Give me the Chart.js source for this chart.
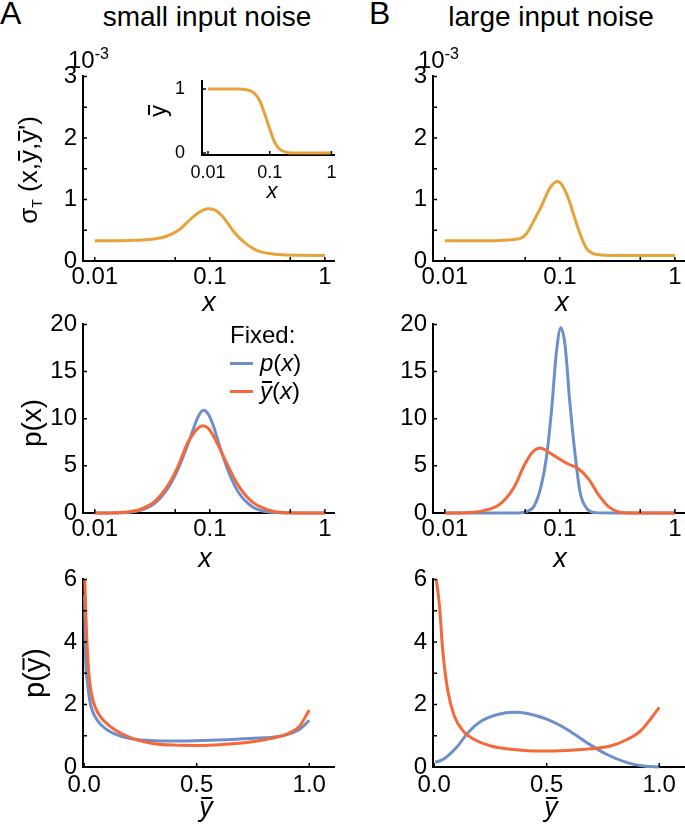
<!DOCTYPE html>
<html>
<head>
<meta charset="utf-8">
<script src="https://cdn.jsdelivr.net/npm/chart.js@4.4.1/dist/chart.umd.min.js"></script>
<style>
html, body { margin: 0; padding: 0; background: #fff; overflow: hidden; }
#fig { position: relative; width: 685px; height: 831px; overflow: hidden; font-family: "Liberation Sans", Arial, sans-serif; color: #000; }
#fig canvas { position: absolute; }
.t { position: absolute; white-space: nowrap; line-height: 1; z-index: 10; }
.c { transform: translateX(-50%); }
.r { transform: translate(-50%, -50%) rotate(-90deg); }
/* barre au-dessus du y */
.ob { position: relative; display: inline-block; }
.ob::before { content: ''; position: absolute; left: 0.08em; right: 0.02em; top: 0.1em; border-top: 2px solid #000; }
.leg { position: absolute; width: 23px; height: 3px; z-index: 10; }
</style>
</head>
<body>
<div id="fig">
  <div class="t" style="left:0px;top:-3px;font-size:32px;">A</div>
  <div class="t" style="left:369px;top:-3px;font-size:32px;">B</div>
  <div class="t c" style="left:207px;top:3px;font-size:28px;">small input noise</div>
  <div class="t c" style="left:551px;top:3px;font-size:28px;">large input noise</div>

  <div class="t" style="left:68px;top:48px;font-size:24px;">10<span style="font-size:16px;position:relative;top:-9px;">-3</span></div>
  <div class="t" style="left:418px;top:48px;font-size:24px;">10<span style="font-size:16px;position:relative;top:-9px;">-3</span></div>

  <!-- titres des axes -->
  <div class="t r" style="left:28px;top:170px;font-size:26px;">σ<span style="font-size:14px;position:relative;top:5px;">T</span> (x,<span class="ob">y</span>,<span class="ob">y</span>')</div>
  <div class="t r" style="left:32px;top:423px;font-size:28px;">p(x)</div>
  <div class="t r" style="left:34px;top:673px;font-size:29px;">p(<span class="ob">y</span>)</div>

  <div class="t c" style="left:209px;top:289px;font-size:27px;font-style:italic;">x</div>
  <div class="t c" style="left:562px;top:289px;font-size:27px;font-style:italic;">x</div>
  <div class="t c" style="left:205px;top:545px;font-size:27px;font-style:italic;">x</div>
  <div class="t c" style="left:560px;top:545px;font-size:27px;font-style:italic;">x</div>
  <div class="t c" style="left:206px;top:794px;font-size:27px;font-style:italic;"><span class="ob">y</span></div>
  <div class="t c" style="left:551px;top:794px;font-size:27px;font-style:italic;"><span class="ob">y</span></div>

  <!-- encart -->
  <div class="t r" style="left:158px;top:111px;font-size:24px;"><span class="ob">y</span></div>
  <div class="t c" style="left:272px;top:180px;font-size:22px;font-style:italic;">x</div>

  <!-- légende -->
  <div class="t" style="left:230px;top:323px;font-size:24px;">Fixed:</div>
  <div class="leg" style="left:230px;top:362px;background:#6D8FCA;"></div>
  <div class="t" style="left:260px;top:351px;font-size:24px;"><i>p</i>(<i>x</i>)</div>
  <div class="leg" style="left:230px;top:390px;background:#F4693A;"></div>
  <div class="t" style="left:260px;top:379px;font-size:24px;"><i class="ob">y</i>(<i>x</i>)</div>
</div>

<script>
const gold = '#E8A23A';
const blue = '#6D8FCA';
const red = '#F4693A';

// graduations
const logTicks = [0.01, 0.05, 0.1, 0.5, 1];
const logLabels = ['0.01', '', '0.1', '', '1'];
const insetXTicks = [0.01, 0.1, 1];
const insetXLabels = ['0.01', '0.1', '1'];
const insetYTicks = [0, 1];
const insetYLabels = ['0', '1'];
const sigTicks = [0, 0.5, 1, 1.5, 2, 2.5, 3];
const sigLabels = ['0', '', '1', '', '2', '', '3'];
const pxTicks = [0, 5, 10, 15, 20];
const pxLabels = ['0', '5', '10', '15', '20'];
const pyTicks = [0, 1, 2, 3, 4, 5, 6];
const pyLabels = ['0', '', '2', '', '4', '', '6'];
const ybarTicks = [0, 0.5, 1];
const ybarLabels = ['0.0', '0.5', '1.0'];

// ligne 1 : sigma_T (x 10^-3)
const topA_x = [0.01, 0.02, 0.03, 0.04, 0.048, 0.056, 0.063, 0.072, 0.082, 0.096, 0.11, 0.122, 0.14, 0.158, 0.18, 0.21, 0.25, 0.29, 0.35, 0.43, 0.6, 1];
const topA_sig = [0.33, 0.335, 0.35, 0.39, 0.45, 0.53, 0.62, 0.72, 0.8, 0.85, 0.83, 0.77, 0.64, 0.5, 0.38, 0.27, 0.18, 0.14, 0.115, 0.1, 0.092, 0.09];
const topB_x = [0.01, 0.02, 0.03, 0.04, 0.0458, 0.051, 0.056, 0.062, 0.0687, 0.075, 0.081, 0.086, 0.091, 0.095, 0.099, 0.104, 0.11, 0.118, 0.126, 0.136, 0.146, 0.158, 0.171, 0.19, 0.218, 0.3, 0.5, 1];
const topB_sig = [0.33, 0.33, 0.335, 0.35, 0.37, 0.44, 0.56, 0.72, 0.88, 1.04, 1.17, 1.24, 1.28, 1.29, 1.28, 1.24, 1.16, 1.03, 0.87, 0.67, 0.5, 0.33, 0.2, 0.13, 0.1, 0.09, 0.09, 0.09];

// encart : ybar(x)
const inset_x = [0.01, 0.03, 0.042, 0.054, 0.069, 0.083, 0.1, 0.12, 0.145, 0.186, 0.24, 0.4, 1];
const inset_y = [1, 1, 0.99, 0.95, 0.82, 0.61, 0.38, 0.17, 0.06, 0.014, 0, 0, 0];

// ligne 2 : p(x)
const midA_bx = [0.01, 0.015, 0.0192, 0.0251, 0.033, 0.0431, 0.0527, 0.0646, 0.079, 0.088, 0.0967, 0.107, 0.118, 0.145, 0.177, 0.232, 0.325, 0.455, 1];
const midA_blue = [0, 0.01, 0.05, 0.3, 1.0, 2.6, 4.6, 7.3, 10.2, 10.9, 10.5, 9.3, 7.6, 4.4, 2.2, 0.7, 0.1, 0.01, 0];
const midA_rx = [0.01, 0.015, 0.0192, 0.0251, 0.033, 0.0431, 0.0527, 0.0646, 0.079, 0.0863, 0.0967, 0.107, 0.118, 0.145, 0.177, 0.232, 0.325, 0.455, 1];
const midA_red = [0, 0.03, 0.1, 0.4, 1.2, 2.9, 4.9, 7.5, 9.0, 9.25, 9.0, 8.2, 7.2, 4.9, 2.9, 1.2, 0.3, 0.02, 0];
const midB_bx = [0.01, 0.04, 0.0459, 0.0526, 0.0602, 0.0689, 0.0763, 0.0844, 0.0935, 0.102, 0.111, 0.122, 0.136, 0.15, 0.172, 0.204, 0.3, 1];
const midB_blue = [0, 0, 0.02, 0.18, 0.8, 2.9, 5.8, 10.7, 17.1, 19.65, 17.8, 11.8, 6.1, 2.2, 0.46, 0.04, 0, 0];
const midB_rx = [0.01, 0.015, 0.0218, 0.0306, 0.0401, 0.0491, 0.0582, 0.068, 0.0789, 0.0967, 0.118, 0.145, 0.178, 0.218, 0.267, 0.327, 0.429, 1];
const midB_red = [0, 0.03, 0.25, 1.0, 2.76, 5.06, 6.5, 6.9, 6.5, 5.8, 5.2, 4.7, 3.6, 1.9, 0.64, 0.1, 0, 0];

// ligne 3 : p(ybar)
const botA_rx = [0.003, 0.007, 0.012, 0.018, 0.024, 0.035, 0.05, 0.071, 0.115, 0.189, 0.292, 0.395, 0.513, 0.66, 0.808, 0.897, 0.956, 1.0];
const botA_red = [6.0, 5.0, 4.06, 3.3, 2.77, 2.25, 1.9, 1.62, 1.3, 0.99, 0.77, 0.7, 0.69, 0.74, 0.88, 1.04, 1.3, 1.82];
const botA_bx = [0.002, 0.006, 0.015, 0.027, 0.056, 0.1, 0.189, 0.292, 0.44, 0.587, 0.735, 0.882, 0.956, 1.0];
const botA_blue = [5.5, 3.65, 2.68, 2.05, 1.52, 1.2, 0.93, 0.85, 0.83, 0.86, 0.91, 1.0, 1.2, 1.49];
const botB_rx = [0.01, 0.024, 0.038, 0.06, 0.09, 0.134, 0.178, 0.252, 0.355, 0.473, 0.591, 0.695, 0.783, 0.857, 0.916, 0.96, 1.0];
const botB_red = [6.0, 5.13, 3.75, 2.47, 1.62, 1.11, 0.88, 0.67, 0.56, 0.51, 0.53, 0.58, 0.67, 0.88, 1.15, 1.52, 1.91];
const botB_bx = [0.005, 0.031, 0.06, 0.105, 0.149, 0.208, 0.282, 0.355, 0.414, 0.503, 0.591, 0.68, 0.768, 0.857, 0.93, 1.0];
const botB_blue = [0.15, 0.21, 0.35, 0.67, 1.09, 1.46, 1.68, 1.75, 1.71, 1.52, 1.2, 0.77, 0.4, 0.14, 0.03, 0];

// petites graduations tournées vers l'intérieur
const innerTicks = {
  id: 'innerTicks',
  afterDatasetsDraw(chart) {
    const { ctx, chartArea: a, scales: { x, y } } = chart;
    ctx.save();
    ctx.strokeStyle = '#000';
    ctx.lineWidth = 1.5;
    ctx.beginPath();
    x.ticks.forEach(t => {
      const p = x.getPixelForValue(t.value);
      ctx.moveTo(p, a.bottom);
      ctx.lineTo(p, a.bottom - 4);
    });
    y.ticks.forEach(t => {
      const p = y.getPixelForValue(t.value);
      ctx.moveTo(a.left, p);
      ctx.lineTo(a.left + 4, p);
    });
    ctx.stroke();
    ctx.restore();
  }
};

function line(xs, ys, color) {
  return {
    data: xs.map((x, i) => ({ x, y: ys[i] })),
    borderColor: color,
    borderWidth: 3,
    pointRadius: 0,
    fill: false,
    clip: false,
    cubicInterpolationMode: 'monotone'
  };
}

function axis(type, min, max, vals, labels, fs, pad, fit) {
  return {
    type, min, max,
    bounds: 'data',
    afterBuildTicks: s => { s.ticks = vals.map(v => ({ value: v })); },
    afterFit: fit,
    ticks: {
      callback: (v, i) => labels[i],
      color: '#000',
      font: { family: 'Liberation Sans', size: fs },
      padding: pad,
      autoSkip: false,
      maxRotation: 0,
      minRotation: 0
    },
    grid: { display: false, drawTicks: false },
    border: { display: true, color: '#000', width: 2 }
  };
}

// area = zone du graphe en pixels de la figure
function makePanel(area, o) {
  const yW = o.yW || 70, xH = o.xH || 40, padT = 20, padR = 14;
  const cv = document.createElement('canvas');
  cv.width = (area.r - area.l) + yW + padR;
  cv.height = (area.b - area.t) + padT + xH;
  cv.style.left = (area.l - yW) + 'px';
  cv.style.top = (area.t - padT) + 'px';
  cv.style.zIndex = o.z || 1;
  document.getElementById('fig').appendChild(cv);
  const fs = o.fs || 24;
  return new Chart(cv, {
    type: 'line',
    data: { datasets: o.sets },
    options: {
      responsive: false,
      animation: false,
      events: [],
      layout: { padding: { left: 0, top: padT, right: padR, bottom: 0 } },
      plugins: { legend: { display: false }, tooltip: { enabled: false } },
      scales: {
        x: axis(o.xType, o.xMin, o.xMax, o.xTicks, o.xLabels, fs, o.xPad, s => { s.height = xH; }),
        y: axis('linear', o.yMin, o.yMax, o.yTicks, o.yLabels, fs, o.yPad || 6, s => { s.width = yW; })
      }
    },
    plugins: [innerTicks]
  });
}

const logX = { xType: 'logarithmic', xMin: 0.0079, xMax: 1.2, xTicks: logTicks, xLabels: logLabels, xPad: 2 };
const linX = { xType: 'linear', xMin: -0.005, xMax: 1.11, xTicks: ybarTicks, xLabels: ybarLabels, xPad: 4 };

// ligne 1
makePanel({ l: 83, t: 76, r: 334, b: 261 }, Object.assign({}, logX, {
  yMin: 0, yMax: 3, yTicks: sigTicks, yLabels: sigLabels, sets: [line(topA_x, topA_sig, gold)]
}));
makePanel({ l: 433, t: 76, r: 684, b: 261 }, Object.assign({}, logX, {
  yMin: 0, yMax: 3, yTicks: sigTicks, yLabels: sigLabels, sets: [line(topB_x, topB_sig, gold)]
}));
// encart
makePanel({ l: 202, t: 73, r: 334, b: 155 }, {
  xType: 'logarithmic', xMin: 0.008, xMax: 1.1, xTicks: insetXTicks, xLabels: insetXLabels, xPad: 7,
  yMin: -0.03, yMax: 1.13, yTicks: insetYTicks, yLabels: insetYLabels, yPad: 17,
  fs: 18, yW: 40, xH: 30, z: 3, sets: [line(inset_x, inset_y, gold)]
});

// ligne 2
makePanel({ l: 83, t: 324, r: 334, b: 513 }, Object.assign({}, logX, {
  yMin: 0, yMax: 20, yTicks: pxTicks, yLabels: pxLabels,
  sets: [line(midA_rx, midA_red, red), line(midA_bx, midA_blue, blue)]
}));
makePanel({ l: 433, t: 324, r: 684, b: 513 }, Object.assign({}, logX, {
  yMin: 0, yMax: 20, yTicks: pxTicks, yLabels: pxLabels,
  sets: [line(midB_rx, midB_red, red), line(midB_bx, midB_blue, blue)]
}));

// ligne 3
makePanel({ l: 83, t: 579, r: 334, b: 767 }, Object.assign({}, linX, {
  yMin: 0, yMax: 6, yTicks: pyTicks, yLabels: pyLabels,
  sets: [line(botA_rx, botA_red, red), line(botA_bx, botA_blue, blue)]
}));
makePanel({ l: 433, t: 579, r: 684, b: 767 }, Object.assign({}, linX, {
  yMin: 0, yMax: 6, yTicks: pyTicks, yLabels: pyLabels,
  sets: [line(botB_rx, botB_red, red), line(botB_bx, botB_blue, blue)]
}));
</script>
</body>
</html>
